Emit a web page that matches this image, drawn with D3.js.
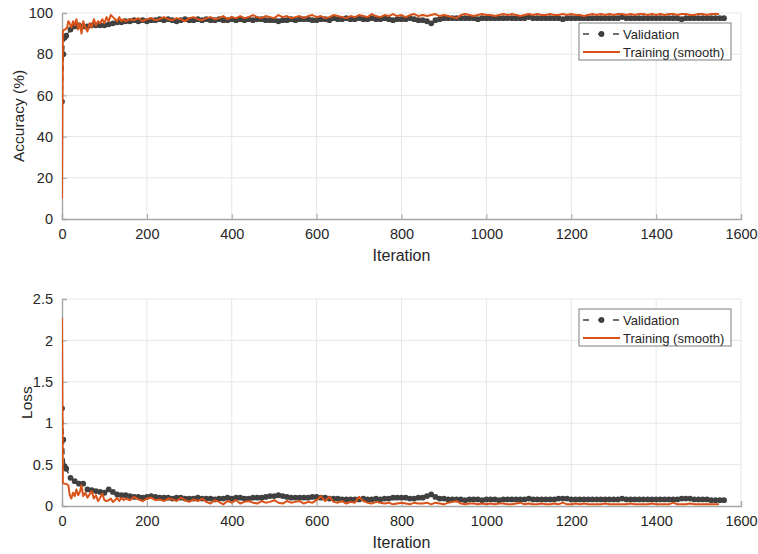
<!DOCTYPE html>
<html><head><meta charset="utf-8">
<script src="https://cdn.jsdelivr.net/npm/d3@7"></script>
<style>
body{margin:0;background:#fff;}
svg text{font-family:"Liberation Sans",Arial,sans-serif;fill:#262626;}
</style></head>
<body><svg id="c" width="758" height="554"></svg>
<script>
// ---------------- DATA ----------------
const xTicks = [0,200,400,600,800,1000,1200,1400,1600];
const accTicks = [0,20,40,60,80,100];
const lossTicks = [0,0.5,1,1.5,2,2.5];

// Training (smooth) iterations: early irregular part + regular samples
const trainIterEarly = [0,2,5,8,12,15,18,22,26,30,34,38,42,46,50,55,60,65,70,75,80,85,90,95,100,105,110,115,120,125,130,135,140,145];
const trainIterStep = 10;
const trainIterLast = 1548;

const trainAcc = [
 10,91,92,92,93,96,95,93,96,94,97,92,95,90,96,93,91,95,93,97,94,96,95,97,95,98,96,99,98,97,96,98,96,97,
 // 150..1540 step 10
 96,97,96.5,97.5,96,97,97.5,96.5,97,98,
 97,96.5,97.5,97,96,97.5,98,97,96.5,97.5,
 98,97,97.5,98.5,97,98,97.5,98.5,97.5,98,
 99,98,97.5,98.5,98,97.5,99,98,98.5,97.5,
 98,98.5,97.5,98.5,99,98,98.5,97.5,98,99,
 98.5,98,97.5,98.5,98,99,98.5,98,99.5,98.5,
 98,99,98.5,99.5,98.5,99,98,99,99.5,98.5,
 99,98.5,99,99.5,98.5,99,98.5,98,97.5,99,
 99.5,99,98.5,99,99.5,99,99,98.5,99,99.5,
 99,99.5,99,98.5,99,99.5,99,99.5,99,99,
 99.5,99,99,99.5,99,99.5,99,99,98.5,99,
 99.5,99,99.5,99,99.5,99,99.5,99.5,99,99.5,
 99,99.5,99.5,99,99.5,99,99.5,99,99.5,99.5,
 99,99.5,99.5,99,99,99.5,99.5,99,99.5,99.5,
 99.5
];
const trainLoss = [
 2.27,0.28,0.27,0.27,0.26,0.25,0.14,0.09,0.16,0.12,0.2,0.13,0.17,0.25,0.12,0.16,0.1,0.14,0.18,0.09,0.13,0.06,0.1,0.15,0.07,0.06,0.07,0.09,0.05,0.07,0.1,0.06,0.1,0.07,
 // 150..1540 step 10
 0.09,0.07,0.11,0.08,0.06,0.09,0.1,0.07,0.08,0.06,
 0.09,0.08,0.06,0.1,0.07,0.05,0.08,0.06,0.09,0.05,
 0.03,0.07,0.05,0.02,0.06,0.04,0.07,0.03,0.05,0.06,
 0.04,0.03,0.06,0.04,0.05,0.07,0.04,0.03,0.06,0.04,
 0.05,0.06,0.03,0.05,0.04,0.07,0.12,0.06,0.11,0.05,
 0.04,0.06,0.03,0.05,0.04,0.11,0.06,0.04,0.03,0.05,
 0.04,0.03,0.04,0.02,0.03,0.04,0.03,0.02,0.04,0.03,
 0.03,0.04,0.02,0.04,0.03,0.02,0.04,0.05,0.06,0.03,
 0.02,0.03,0.03,0.02,0.03,0.02,0.03,0.02,0.03,0.03,
 0.02,0.02,0.03,0.04,0.02,0.03,0.02,0.02,0.03,0.02,
 0.02,0.03,0.02,0.04,0.02,0.02,0.03,0.02,0.03,0.02,
 0.02,0.02,0.02,0.03,0.02,0.02,0.02,0.02,0.02,0.03,
 0.02,0.02,0.02,0.02,0.03,0.02,0.02,0.02,0.02,0.04,
 0.02,0.02,0.02,0.03,0.02,0.02,0.02,0.02,0.02,0.02,
 0.02
];

// Validation iterations: early irregular + regular samples
const valIterEarly = [0,3,6];
const valIterStep = 10;
const valIterLast = 1560;

const valAcc = [
 57,80,88,
 89,92,93.5,94,93.5,93.5,94,94,94,94,
 94.5,95,95.5,95.5,96,96,96.5,96,96.5,96,
 96.5,96.5,97,96.5,97,96.5,96,96.5,97,96.5,
 96.5,97,96.5,97,96.5,96.5,97,96.5,96.5,97,
 96.5,97,96.5,97,96.5,97,97,96.5,96.5,96.5,
 96,96.5,96.5,97,96.5,97,97,97,96.5,96.5,
 97,97,96.5,97.5,97,97,97.5,97,97,97.5,
 97,97,97.5,97,97,97.5,97,96.5,97,97,
 97,97.5,97,96.5,96.5,96,95,96.5,97,97.5,
 97.5,97.5,97.5,97.5,97.5,97.5,97.5,97,97.5,97.5,
 97.5,97.5,97.5,97.5,97.5,97.5,97.5,97.5,97.5,98,
 97.5,97.5,97.5,97.5,97.5,97.5,97.5,97,97.5,97.5,
 97.5,97.5,97.5,97.5,97.5,97.5,97.5,97.5,97.5,97.5,
 97.5,98,97.5,97.5,97.5,97.5,97.5,97.5,97.5,97.5,
 97.5,97.5,97.5,97.5,97.5,97,97.5,97.5,97.5,97.5,
 97.5,97.5,97.5,97.5,97.5,97.5
];
const valLoss = [
 1.18,0.8,0.48,
 0.45,0.34,0.3,0.27,0.27,0.2,0.19,0.18,0.17,0.16,
 0.2,0.17,0.14,0.13,0.13,0.12,0.11,0.11,0.1,0.11,
 0.12,0.11,0.1,0.1,0.1,0.09,0.1,0.1,0.09,0.09,
 0.09,0.1,0.09,0.09,0.09,0.08,0.09,0.09,0.1,0.09,
 0.1,0.1,0.09,0.09,0.1,0.1,0.1,0.11,0.12,0.12,
 0.13,0.12,0.11,0.1,0.1,0.1,0.1,0.1,0.11,0.11,
 0.1,0.1,0.09,0.09,0.09,0.08,0.08,0.08,0.08,0.08,
 0.09,0.08,0.08,0.09,0.08,0.09,0.09,0.1,0.1,0.1,
 0.1,0.09,0.09,0.1,0.1,0.12,0.14,0.11,0.09,0.09,
 0.08,0.08,0.08,0.08,0.07,0.08,0.08,0.08,0.07,0.08,
 0.08,0.08,0.07,0.08,0.08,0.08,0.08,0.08,0.08,0.09,
 0.08,0.08,0.08,0.08,0.08,0.08,0.09,0.09,0.09,0.08,
 0.08,0.08,0.08,0.08,0.08,0.08,0.08,0.08,0.08,0.08,
 0.08,0.09,0.08,0.08,0.08,0.08,0.08,0.08,0.08,0.08,
 0.08,0.08,0.08,0.08,0.08,0.09,0.09,0.09,0.08,0.08,
 0.08,0.08,0.07,0.07,0.07,0.07
];

const seriesNames = ["Validation","Training (smooth)"];
const yLabels = ["Accuracy (%)","Loss"];

// ---------------- BUILD ----------------
const trainIter = trainIterEarly.concat(d3.range(150, 1541, trainIterStep), [trainIterLast]);
const valIter = valIterEarly.concat(d3.range(10, valIterLast + 1, valIterStep));

const svg = d3.select("#c");
const orange = "#D95319", gray = "#404040", axisCol = "#a6a6a6", gridCol = "#e6e6e6";
const L = 62, R = 741;

const x = d3.scaleLinear().domain([0,1600]).range([L,R]);

function panel(top, bottom, yDomain, yTicks, yFmt, label, labelX, tr, va, legendTop){
  const y = d3.scaleLinear().domain(yDomain).range([bottom, top]);
  const g = svg.append("g");
  // grid
  g.append("g").selectAll("line").data(xTicks.slice(1)).join("line")
    .attr("x1",d=>x(d)).attr("x2",d=>x(d)).attr("y1",top).attr("y2",bottom)
    .attr("stroke",gridCol).attr("stroke-width",1);
  g.append("g").selectAll("line").data(yTicks.slice(1)).join("line")
    .attr("x1",L).attr("x2",R).attr("y1",d=>y(d)).attr("y2",d=>y(d))
    .attr("stroke",gridCol).attr("stroke-width",1);

  // axes
  const xa = g.append("g").attr("transform",`translate(0,${bottom})`)
    .call(d3.axisBottom(x).tickValues(xTicks).tickSize(-5).tickPadding(10).tickFormat(d3.format("d")));
  const ya = g.append("g").attr("transform",`translate(${L},0)`)
    .call(d3.axisLeft(y).tickValues(yTicks).tickSize(-5).tickPadding(9).tickFormat(yFmt));
  [xa,ya].forEach(a=>{
    a.select(".domain").attr("stroke",axisCol).attr("stroke-width",1.4);
    a.selectAll(".tick line").attr("stroke",axisCol);
    a.selectAll("text").attr("font-size",14.5).attr("fill","#262626")
      .style("font-family","'Liberation Sans',Arial,sans-serif");
  });

  // lines
  const clip = "clip"+top;
  svg.append("clipPath").attr("id",clip).append("rect")
    .attr("x",L).attr("y",top-3).attr("width",R-L+6).attr("height",bottom-top+3);
  const trainData = trainIter.map((it,i)=>[it,tr[i]]);
  const valData = valIter.map((it,i)=>[it,va[i]]);
  const line = d3.line().x(d=>x(d[0])).y(d=>y(d[1]));
  const pg = g.append("g").attr("clip-path",`url(#${clip})`);
  pg.append("path").datum(valData).attr("d",line).attr("fill","none")
    .attr("stroke",gray).attr("stroke-width",1.6).attr("stroke-dasharray","6,4");
  pg.append("g").selectAll("circle").data(valData).join("circle")
    .attr("cx",d=>x(d[0])).attr("cy",d=>y(d[1])).attr("r",2.9).attr("fill",gray);
  pg.append("path").datum(trainData).attr("d",line).attr("fill","none")
    .attr("stroke",orange).attr("stroke-width",2).attr("stroke-linejoin","round");

  // y label
  svg.append("text").attr("transform",`translate(${labelX},${(top+bottom)/2}) rotate(-90)`)
    .attr("text-anchor","middle").attr("font-size",15.5).text(label);
  // x label
  svg.append("text").attr("x",(L+R)/2).attr("y",bottom+42).attr("text-anchor","middle")
    .attr("font-size",16).text("Iteration");

  // legend
  const lg = svg.append("g").attr("transform",`translate(579,${legendTop})`);
  lg.append("rect").attr("width",152).attr("height",37).attr("fill","#fff")
    .attr("stroke","#7f7f7f").attr("stroke-width",1);
  lg.append("line").attr("x1",4).attr("x2",41).attr("y1",11).attr("y2",11)
    .attr("stroke",gray).attr("stroke-width",1.6).attr("stroke-dasharray","6,9");
  lg.append("circle").attr("cx",22.5).attr("cy",11).attr("r",2.9).attr("fill",gray);
  lg.append("line").attr("x1",4).attr("x2",41).attr("y1",29).attr("y2",29)
    .attr("stroke",orange).attr("stroke-width",2);
  lg.append("text").attr("x",44).attr("y",16).attr("font-size",13).text(seriesNames[0]);
  lg.append("text").attr("x",44).attr("y",34).attr("font-size",13).text(seriesNames[1]);
}

panel(13, 219, [0,100], accTicks, d3.format("d"), yLabels[0], 24, trainAcc, valAcc, 23);
panel(299, 506, [0,2.5], lossTicks, d=>String(d), yLabels[1], 32, trainLoss, valLoss, 309);
</script></body></html>
